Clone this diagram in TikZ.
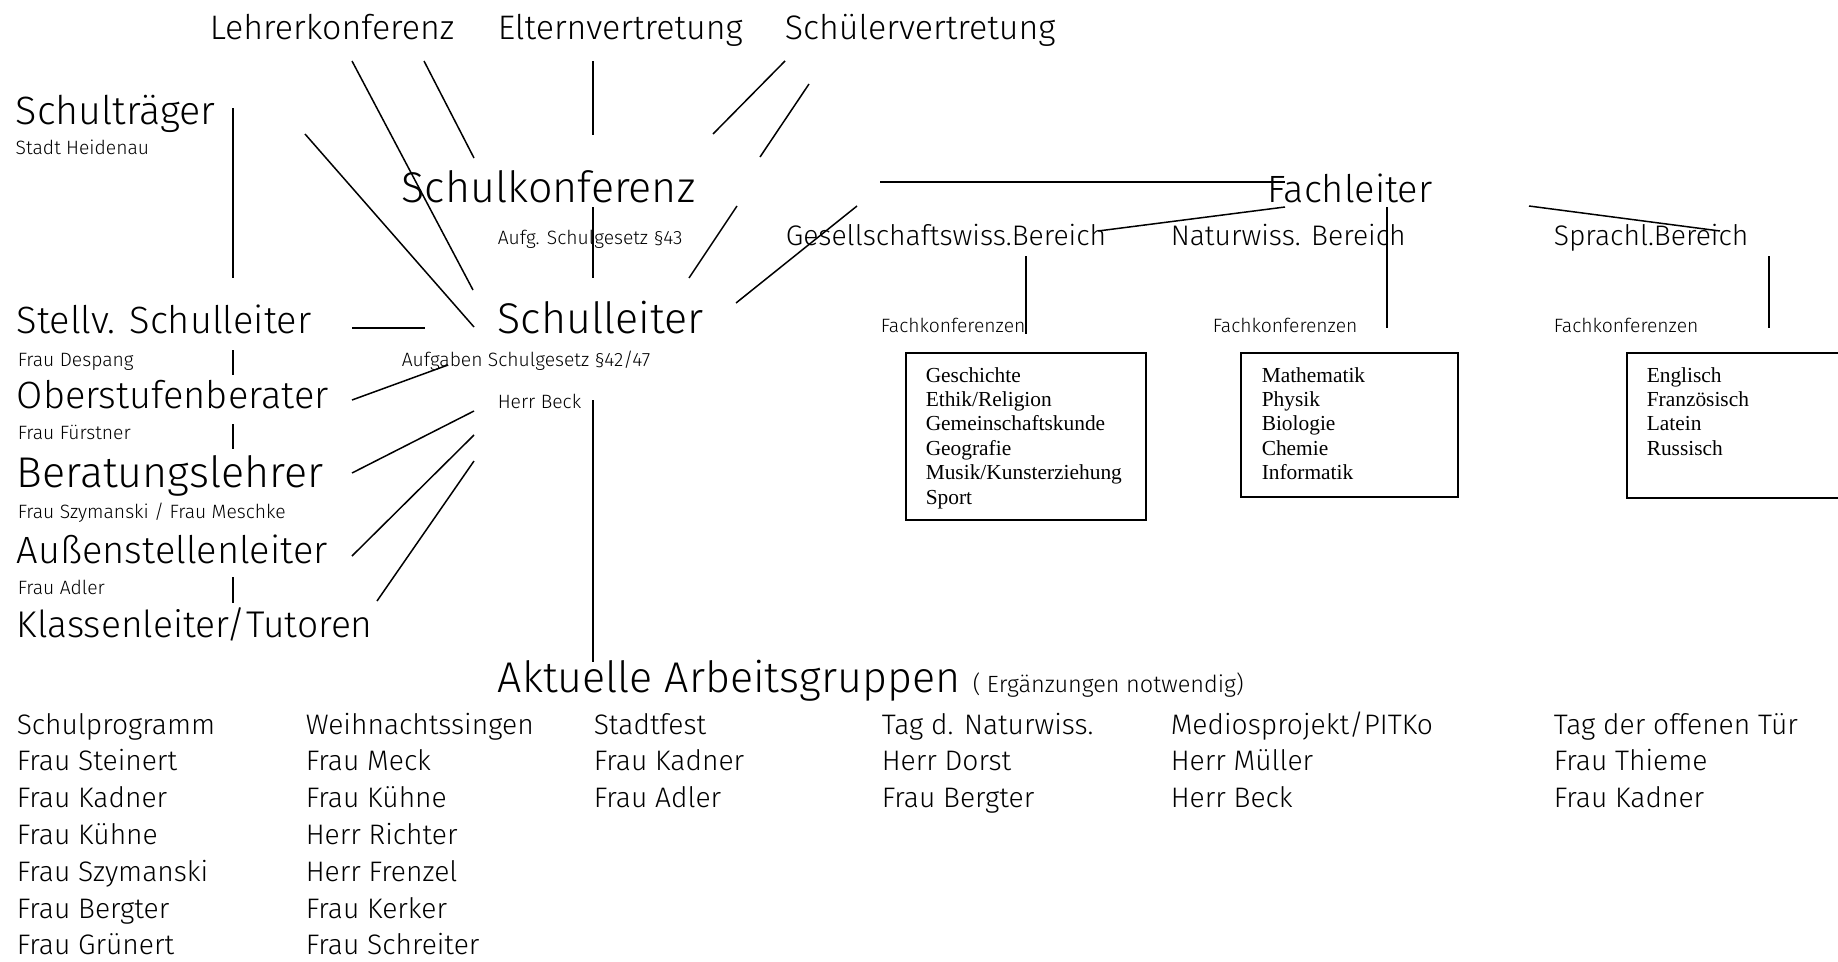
\documentclass[tikz,border=0pt]{standalone}
\usepackage{fontspec}
\setmainfont{Fira Sans Light}
\newfontfamily\boxfont{Liberation Serif}
\usetikzlibrary{positioning}

\begin{document}
\begin{tikzpicture}[x=1pt,y=-1pt,line width=1.5pt,
  lbl/.style={anchor=base west,inner sep=0pt},
  huge/.style={lbl,font=\fontsize{38}{42}\selectfont},
  chef/.style={lbl,font=\fontsize{43}{47}\selectfont},
  gremium/.style={lbl,font=\fontsize{34}{38}\selectfont},
  bereich/.style={lbl,font=\fontsize{28.3}{32}\selectfont},
  item/.style={lbl,font=\fontsize{28.2}{32}\selectfont},
  small/.style={lbl,font=\fontsize{19.3}{23}\selectfont},
  hint/.style={lbl,font=\fontsize{23.5}{27}\selectfont},
  fach/.style={lbl,font=\boxfont\fontsize{21.4}{24}\selectfont},
  kasten/.style={draw,line width=2pt,anchor=north west,inner sep=0pt}]
\useasboundingbox (0,0) rectangle (1838,961);

% Gremien oben
\node[gremium] (lk) at (209,39) {Lehrerkonferenz};
\node[gremium] (ev) at (497,39) {Elternvertretung};
\node[gremium] (sv) at (784,39) {Schülervertretung};

% Schulleitung
\node[huge,font=\fontsize{39.5}{43}\selectfont] (st) at (15,124) {Schulträger};
\node[small] (stn) at (15,154) {Stadt Heidenau};
\node[chef] (sk) at (401,202) {Schulkonferenz};
\node[small] (skg) at (497,244) {Aufg. Schulgesetz §43};
\node[chef] (sl) at (497,333) {Schulleiter};
\node[small] (slg) at (401,366) {Aufgaben Schulgesetz §42/47};
\node[small] (sln) at (497,408) {Herr Beck};

% linke Spalte
\node[huge] (ssl) at (16,333) {Stellv. Schulleiter};
\node[small] (ssln) at (17,366) {Frau Despang};
\node[huge] (osb) at (16,408) {Oberstufenberater};
\node[small] (osbn) at (17,439) {Frau Fürstner};
\node[chef] (bl) at (16,487) {Beratungslehrer};
\node[small] (bln) at (17,518) {Frau Szymanski / Frau Meschke};
\node[huge] (asl) at (16,563) {Außenstellenleiter};
\node[small] (asln) at (17,594) {Frau Adler};
\node[huge,font=\fontsize{37.2}{41}\selectfont] (kl) at (16,637) {Klassenleiter/Tutoren};

% Fachleiter
\node[huge] (fl) at (1267,202) {Fachleiter};
\node[bereich] (gb) at (785,245) {Gesellschaftswiss.Bereich};
\node[bereich] (nb) at (1170,245) {Naturwiss. Bereich};
\node[bereich] (sb) at (1553,245) {Sprachl.Bereich};
\node[small] (fk1) at (880,332) {Fachkonferenzen};
\node[small] (fk2) at (1212,332) {Fachkonferenzen};
\node[small] (fk3) at (1553,332) {Fachkonferenzen};
\node[kasten,minimum width=240pt,minimum height=167pt] (gk) at (905,352) {};
\node[kasten,minimum width=217pt,minimum height=144pt] (nk) at (1240,352) {};
\node[kasten,minimum width=230pt,minimum height=145pt] (sk3) at (1626,352) {};
\foreach \f [count=\i from 0] in {Geschichte,Ethik/Religion,Gemeinschaftskunde,Geografie,Musik/Kunsterziehung,Sport}
  \node[fach] (gk-\i) at (925,{382+24.4*\i}) {\f};
\foreach \f [count=\i from 0] in {Mathematik,Physik,Biologie,Chemie,Informatik}
  \node[fach] (nk-\i) at (1261,{382+24.4*\i}) {\f};
\foreach \f [count=\i from 0] in {Englisch,Französisch,Latein,Russisch}
  \node[fach] (sk3-\i) at (1646,{382+24.4*\i}) {\f};

% Arbeitsgruppen
\node[chef] (ag) at (497,692) {Aktuelle Arbeitsgruppen};
\node[hint] (agn) at (972,692) {( Ergänzungen notwendig)};
\foreach \t [count=\i from 0] in {Schulprogramm,Frau Steinert,Frau Kadner,Frau Kühne,Frau Szymanski,Frau Bergter,Frau Grünert}
  \node[item] (ag1-\i) at (16,{734+36.8*\i}) {\t};
\foreach \t [count=\i from 0] in {Weihnachtssingen,Frau Meck,Frau Kühne,Herr Richter,Herr Frenzel,Frau Kerker,Frau Schreiter}
  \node[item] (ag2-\i) at (305,{734+36.8*\i}) {\t};
\foreach \t [count=\i from 0] in {Stadtfest,Frau Kadner,Frau Adler}
  \node[item] (ag3-\i) at (593,{734+36.8*\i}) {\t};
\foreach \t [count=\i from 0] in {Tag d. Naturwiss.,Herr Dorst,Frau Bergter}
  \node[item] (ag4-\i) at (881,{734+36.8*\i}) {\t};
\foreach \t [count=\i from 0] in {Mediosprojekt/PITKo,Herr Müller,Herr Beck}
  \node[item] (ag5-\i) at (1170,{734+36.8*\i}) {\t};
\foreach \t [count=\i from 0] in {Tag der offenen Tür,Frau Thieme,Frau Kadner}
  \node[item] (ag6-\i) at (1553,{734+36.8*\i}) {\t};

% Linienenden
\coordinate (lk1) at (352,61); \coordinate (lk2) at (424,61);
\coordinate (ev1) at (593,61); \coordinate (sv1) at (785,61); \coordinate (sv2) at (809,84);
\coordinate (st1) at (233,108); \coordinate (st2) at (233,278); \coordinate (st3) at (305,134);
\coordinate (sk1) at (474,158); \coordinate (sk2) at (593,135); \coordinate (sk3a) at (713,134);
\coordinate (sk4) at (760,157); \coordinate (sk5) at (593,207); \coordinate (sk6) at (737,206);
\coordinate (sl1) at (473,290); \coordinate (sl2) at (474,327); \coordinate (sl3) at (593,278);
\coordinate (sl4) at (689,278); \coordinate (sl5) at (736,303); \coordinate (sl6) at (425,328);
\coordinate (sl7) at (448,365); \coordinate (sl8) at (474,411); \coordinate (sl9) at (474,435);
\coordinate (sl10) at (474,461); \coordinate (sl11) at (593,400);
\coordinate (fl0) at (857,206); \coordinate (fl1) at (880,182); \coordinate (fl2) at (1285,182);
\coordinate (fl3) at (1285,207); \coordinate (fl4) at (1387,207); \coordinate (fl5) at (1529,206);
\coordinate (gb1) at (1098,231); \coordinate (gb2) at (1026,256); \coordinate (gb3) at (1026,334);
\coordinate (nb1) at (1387,328); \coordinate (sb1) at (1720,231);
\coordinate (sb2) at (1769,256); \coordinate (sb3) at (1769,328);
\coordinate (l1) at (352,328); \coordinate (l2) at (233,350); \coordinate (l3) at (233,375);
\coordinate (l4) at (352,400); \coordinate (l5) at (233,424); \coordinate (l6) at (233,449);
\coordinate (l7) at (352,473); \coordinate (l8) at (352,556); \coordinate (l9) at (233,577);
\coordinate (l10) at (233,603); \coordinate (l11) at (377,601); \coordinate (ag0) at (593,662);

% Verbindungen
\draw (lk1) -- (sl1);
\draw (lk2) -- (sk1);
\draw (ev1) -- (sk2);
\draw (sv1) -- (sk3a);
\draw (sv2) -- (sk4);
\draw (st1) -- (st2);
\draw (st3) -- (sl2);
\draw (sk5) -- (sl3);
\draw (sk6) -- (sl4);
\draw (fl0) -- (sl5);
\draw[line width=2pt] (fl1) -- (fl2);
\draw (fl3) -- (gb1);
\draw (fl4) -- (nb1);
\draw (fl5) -- (sb1);
\draw (gb2) -- (gb3);
\draw (sb2) -- (sb3);
\draw (l1) -- (sl6);
\draw (l2) -- (l3);
\draw (l4) -- (sl7);
\draw (l5) -- (l6);
\draw (l7) -- (sl8);
\draw (l8) -- (sl9);
\draw (l9) -- (l10);
\draw (l11) -- (sl10);
\draw (sl11) -- (ag0);
\end{tikzpicture}
\end{document}
